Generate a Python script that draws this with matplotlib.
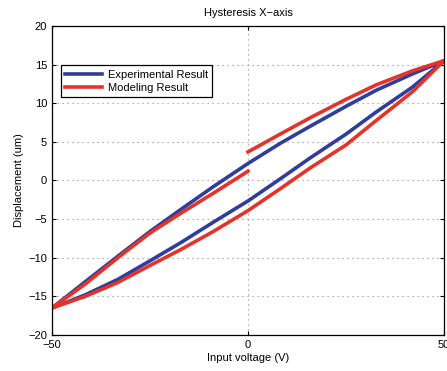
import matplotlib
matplotlib.use("Agg")
import matplotlib.pyplot as plt
import numpy as np

plt.rcParams['font.family'] = ['Liberation Sans', 'DejaVu Sans']

# experimental loop: rising branch and falling branch
exp_up_x = [-50, -41.5, -33.2, -25, -17, -8.85, 0, 8.2, 15.8, 25, 32.8, 42, 50]
exp_up_y = [-16.5, -14.8, -12.8, -10.4, -8.0, -5.4, -2.65, 0.2, 2.9, 6.0, 8.9, 12.1, 15.5]
exp_down_x = [50, 42, 32.8, 25, 15.8, 8.2, 0, -8.85, -17, -25, -33.2, -41.5, -50]
exp_down_y = [15.5, 13.8, 11.7, 9.6, 7.0, 4.8, 2.2, -0.8, -3.7, -6.6, -9.8, -13.1, -16.5]

# model loop, falling branch jumps at 0 V
mod_up_x = [-50, -41.5, -33.2, -25, -17, -8.85, 0, 8.2, 15.8, 25, 32.8, 42, 50]
mod_up_y = [-16.5, -15.0, -13.2, -11.0, -8.9, -6.6, -3.9, -1.08, 1.6, 4.6, 7.8, 11.5, 15.5]
mod_down_x = [50, 42, 32.8, 25, 15.8, 8.2, 0]
mod_down_y = [15.5, 14.2, 12.4, 10.5, 8.1, 6.0, 3.7]
mod_down2_x = [0, -8.85, -17, -25, -33.2, -41.5, -50]
mod_down2_y = [1.2, -1.65, -4.2, -6.8, -10.0, -13.4, -16.5]

blue = '#2f3d9c'
red = '#e5332a'

fig = plt.figure(figsize=(4.47, 3.71), dpi=100)
ax = fig.add_axes([0.1163, 0.097, 0.877, 0.833])

ax.plot(exp_up_x + exp_down_x, exp_up_y + exp_down_y,
        color=blue, lw=2.6, label='Experimental Result')
ax.plot(mod_up_x + mod_down_x, mod_up_y + mod_down_y,
        color=red, lw=2.6, label='Modeling Result')
ax.plot(mod_down2_x, mod_down2_y, color=red, lw=2.6)

ax.set_xlim(-50, 50)
ax.set_ylim(-20, 20)
ax.set_xticks([-50, 0, 50])
ax.set_yticks(np.arange(-20, 21, 5))
ax.tick_params(direction='in', labelsize=8, length=3, width=0.8, top=True, right=True)
for s in ax.spines.values():
    s.set_linewidth(0.9)
ax.grid(True, linestyle=(0, (1, 3.5)), color='#8a8a8a', linewidth=0.8)

ax.set_title('Hysteresis X\u2212axis', fontsize=8, pad=7)
ax.set_xlabel('Input voltage (V)', fontsize=8, labelpad=2)
ax.set_ylabel('Displacement (um)', fontsize=8, labelpad=3)

leg = ax.legend(loc='upper left', bbox_to_anchor=(0.023, 0.873), borderaxespad=0,
                fontsize=8, fancybox=False, framealpha=1, edgecolor='black',
                handlelength=3.3, handletextpad=0.5, borderpad=0.4, labelspacing=0.3)
leg.get_frame().set_linewidth(0.9)

fig.savefig('out.png', dpi=100)
